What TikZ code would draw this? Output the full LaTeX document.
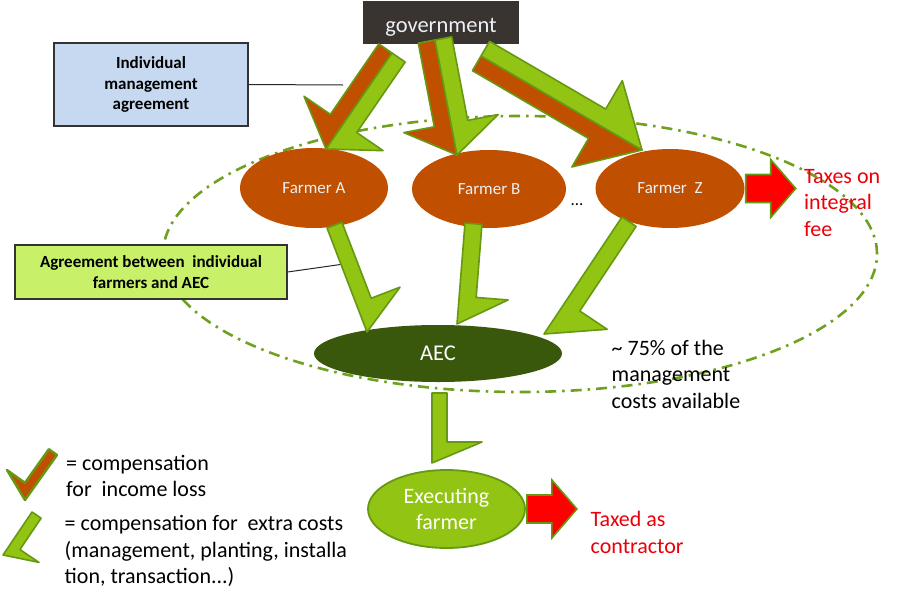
\documentclass[tikz,border=0pt]{standalone}
\usepackage{fontspec}
\setmainfont{Carlito}
\usetikzlibrary{calc,shapes.geometric}
\definecolor{orangeC}{RGB}{192,80,0}
\definecolor{greenF}{RGB}{146,196,20}
\definecolor{greenD}{RGB}{102,152,18}
\definecolor{aecC}{RGB}{58,88,12}
\definecolor{dashC}{RGB}{112,160,32}
\definecolor{govC}{RGB}{58,52,48}
\definecolor{blueC}{RGB}{198,217,241}
\definecolor{lgreenC}{RGB}{200,240,104}
\definecolor{redT}{RGB}{235,0,10}
\definecolor{redF}{RGB}{255,0,0}
\definecolor{lightT}{RGB}{236,240,246}
\newcommand\fsz[2]{\fontsize{#1}{#2}\selectfont}
% half arrow: #1 shaft start (tip edge), #2 tip, #3 width, #4 head length, #5 barb, #6 side angle, #7 style
\newcommand\halfarr[7]{%
  \coordinate (ha-p) at ($(#2)!#4!(#1)$);
  \coordinate (ha-b) at ($(ha-p)!#5!#6:(#1)$);
  \coordinate (ha-i) at ($(ha-p)!#3!#6:(#1)$);
  \coordinate (ha-s) at ($(#1)+(ha-i)-(ha-p)$);
  \filldraw[#7] (#1) -- (#2) -- (ha-b) -- (ha-i) -- (ha-s) -- cycle;
}
\newcommand\redarr[1]{%
  \filldraw[redarr] ($(#1)+(1,-14)$) -- ($(#1)+(26,-14)$) -- ($(#1)+(26,-29)$) -- ($(#1)+(51,0)$)
    -- ($(#1)+(26,29)$) -- ($(#1)+(26,14)$) -- ($(#1)+(1,14)$) -- cycle;
}
\begin{document}
\begin{tikzpicture}[x=1pt,y=-1pt,
  govbox/.style={rectangle, fill=govC, text=lightT, inner sep=0, minimum width=156pt, minimum height=43pt, text height=22pt, text depth=3pt, font=\fsz{22.5}{27}},
  farmer/.style={ellipse, fill=orangeC, text=lightT, inner sep=0, font=\fsz{17}{20}},
  aecnode/.style={ellipse, fill=aecC, text=white, inner sep=0, font=\fsz{22.5}{27}},
  execnode/.style={ellipse, fill=greenF, draw=greenD, line width=1.8pt, text=white, inner sep=0, align=center, font=\fsz{22}{26}},
  infobox/.style={rectangle, draw=black!80, line width=1.3pt, inner sep=0, align=center, font=\bfseries\fsz{17}{20.5}},
  conn/.style={draw=black!85, line width=1pt},
  greenhalf/.style={fill=greenF, draw=greenD, line width=1.6pt, line join=round},
  orangehalf/.style={fill=orangeC, draw=greenD, line width=1.6pt, line join=round},
  redarr/.style={fill=redF, draw=greenD, line width=1.6pt, line join=miter},
  dashring/.style={draw=dashC, line width=2.6pt, dash pattern=on 11pt off 6pt on 2.5pt off 6pt},
  blocktext/.style={anchor=north west, inner sep=0, align=left, font=\fsz{22}{26.5}}
]
\useasboundingbox (0,0) rectangle (900,600);
\fill[white] (0,0) rectangle (900,600);

% dash-dot ring
\draw[dashring] (520,254) ellipse [x radius=357pt, y radius=138pt];

% nodes
\node[govbox] (gov) at (441,22.5) {government};
\node[farmer, minimum width=148pt, minimum height=80pt] (fa) at (314,188) {Farmer A};
\node[farmer, minimum width=154pt, minimum height=78pt] (fb) at (489,189) {Farmer B};
\node[farmer, minimum width=149pt, minimum height=79pt] (fz) at (670,188.5) {Farmer\ \ Z};
\node[anchor=base, inner sep=0, font=\fsz{17}{20}] (dots) at (577,205) {...};
\node[aecnode, minimum width=248pt, minimum height=57pt] (aec) at (438,353.5) {AEC};
\node[execnode, minimum width=157pt, minimum height=78pt] (exec) at (446.5,509) {Executing\\farmer};

\node[infobox, fill=blueC, minimum width=194pt, minimum height=83pt] (ima) at (151,84.5) {Individual\\management\\agreement};
\node[infobox, fill=lgreenC, minimum width=272pt, minimum height=54pt] (agr) at (151,272) {Agreement between\ \ individual\\farmers and AEC};

% texts
\node[blocktext, text=redT] (taxes) at (804,164.5) {\strut Taxes on\\integral\\fee};
\node[blocktext, text=redT] (taxed) at (590.5,508) {\strut Taxed as\\contractor};
\node[blocktext] (pct) at (611.5,336.5) {\strut\textasciitilde\ 75\% of the\\management\\costs available};
\node[blocktext, font=\fsz{22}{26}] (leg1) at (66,452.5) {\strut = compensation\\for\ \ income loss};
\node[blocktext] (leg2) at (64.5,512.2) {\strut = compensation for\ \ extra costs\\(management, planting, installa\\tion, transaction...)};

% connector lines
\coordinate (imaend) at (343,85);
\coordinate (agrend) at (358,262);
\draw[conn] (ima.east) -- (imaend);
\draw[conn] (agr.east) -- (agrend);

% government arrows
\coordinate (g1s) at (392,53);  \coordinate (g1t) at (326,149);
\halfarr{g1s}{g1t}{16pt}{31pt}{48pt}{90}{orangehalf}
\halfarr{g1s}{g1t}{16pt}{31pt}{48pt}{-90}{greenhalf}
\coordinate (g2s) at (435,40);  \coordinate (g2t) at (457,155);
\halfarr{g2s}{g2t}{17pt}{32pt}{48pt}{90}{orangehalf}
\halfarr{g2s}{g2t}{17pt}{32pt}{48pt}{-90}{greenhalf}
\coordinate (g3s) at (481,56);  \coordinate (g3t) at (642,150);
\halfarr{g3s}{g3t}{17pt}{52pt}{50pt}{90}{orangehalf}
\halfarr{g3s}{g3t}{17pt}{52pt}{50pt}{-90}{greenhalf}

% farmer -> AEC arrows
\coordinate (fas) at (327,228); \coordinate (fat) at (367,332);
\halfarr{fas}{fat}{16pt}{30pt}{47pt}{-90}{greenhalf}
\coordinate (fbs) at (465,223); \coordinate (fbt) at (457,324);
\halfarr{fbs}{fbt}{17pt}{28pt}{49pt}{-90}{greenhalf}
\coordinate (fzs) at (622,217); \coordinate (fzt) at (544,334);
\halfarr{fzs}{fzt}{17pt}{39pt}{50pt}{-90}{greenhalf}
% AEC -> executing farmer
\coordinate (aes) at (432,393); \coordinate (aet) at (432,463);
\halfarr{aes}{aet}{15pt}{21pt}{50pt}{-90}{greenhalf}

% red arrows
\redarr{fz.east}
\redarr{exec.east}

% legend icons
\coordinate (l1s) at (57,455); \coordinate (l1t) at (25,500);
\halfarr{l1s}{l1t}{10pt}{14pt}{32pt}{90}{orangehalf, line width=2.4pt}
\coordinate (l2s) at (32,512); \coordinate (l2t) at (3,555);
\halfarr{l2s}{l2t}{11pt}{14pt}{34pt}{-90}{greenhalf}
\end{tikzpicture}
\end{document}
